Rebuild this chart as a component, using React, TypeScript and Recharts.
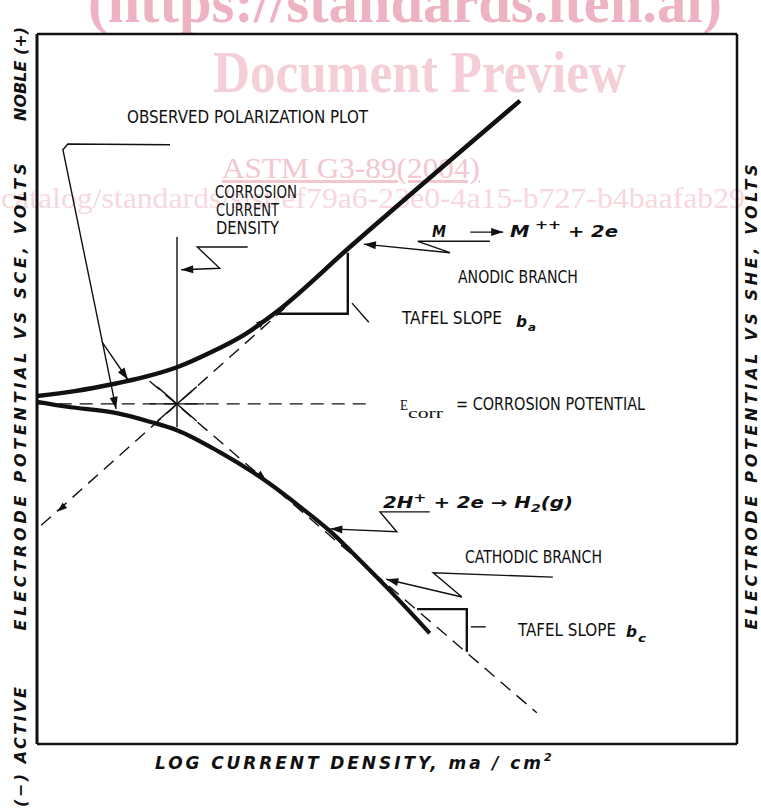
import React from "react";
import { ComposedChart, Line, XAxis, YAxis, ReferenceDot } from "recharts";

type Pt = { i: number; e: number };
const pts = (rows: number[][]): Pt[] => rows.map(([i, e]) => ({ i, e }));

// i = log current density, e = electrode potential, both in the sketch's own units
const anodicBranch = pts([
  [0, 4.9], [0.54, 4.97], [1.09, 5.07], [1.54, 5.17], [2.01, 5.31],
  [2.47, 5.51], [2.97, 5.77], [3.4, 6.07], [4.47, 7.0], [6.9, 9.06],
]);
const cathodicBranch = pts([
  [0, 4.82], [0.43, 4.75], [1.14, 4.66], [1.61, 4.54], [2.0, 4.42], [2.61, 4.11],
  [3.29, 3.69], [3.76, 3.34], [4.23, 2.96], [4.61, 2.59], [5.11, 2.09], [5.61, 1.56],
]);

const E_CORR = 4.79;
const I_CORR = 2.0;
const ecorrLine = pts([[0.01, E_CORR], [4.76, E_CORR]]);
const icorrLine = pts([[I_CORR, 7.14], [I_CORR, 4.46]]);
const anodicTafel = pts([[0.06, 3.08], [3.54, 6.14]]);
const cathodicTafel = pts([[1.61, 5.11], [7.14, 0.44]]);
const crossMarks = [
  pts([[1.61, E_CORR], [2.39, E_CORR]]),
  pts([[1.72, 4.55], [2.28, 5.03]]),
  pts([[1.72, 5.03], [2.28, 4.55]]),
];

// leaders and construction lines
const observedLeader = pts([[1.9, 8.44], [0.44, 8.45], [0.37, 8.37], [1.13, 4.72]]);
const observedBranch = pts([[0.93, 5.66], [1.3, 5.13]]);
const icorrLeader = pts([[3.01, 7.0], [2.29, 7.0], [2.61, 6.7], [2.06, 6.68]]);
const anodicLeader = pts([[6.47, 7.08], [5.44, 7.08], [5.9, 6.92], [4.67, 7.04]]);
const cathodicLeader = pts([[7.37, 2.35], [5.66, 2.41], [6.07, 2.07], [4.99, 2.32]]);
const hydrogenLeader = pts([[5.61, 3.27], [4.9, 3.27], [5.14, 2.99], [4.19, 3.03]]);
const reactionArrow = pts([[6.19, 7.21], [6.66, 7.21]]);
const anodicTriangle = pts([[3.43, 6.06], [4.44, 6.06], [4.44, 6.92]]);
const anodicSlopeLeader = pts([[4.5, 6.21], [4.74, 5.94]]);
const cathodicTriangle = pts([[5.43, 1.9], [6.14, 1.9], [6.14, 1.3]]);
const cathodicSlopeLeader = pts([[6.2, 1.65], [6.41, 1.65]]);
const tafelArrows = [
  pts([[0.54, 3.48], [0.29, 3.27]]),
  pts([[3.07, 5.82], [3.27, 5.99]]),
  pts([[3.07, 3.89], [3.27, 3.72]]),
];

const NARROW = "'Liberation Sans Narrow', 'DejaVu Sans Condensed', 'Liberation Sans', sans-serif";
const BOLDIT = "'DejaVu Sans', 'Liberation Sans', sans-serif";
const SERIF = "'Liberation Serif', 'DejaVu Serif', serif";
const INK = "#111";

const arrowTip = (n: number, len = 12, half = 4) => {
  let px = 0;
  let py = 0;
  return (p: any) => {
    const { cx, cy, index } = p;
    if (index < n - 1) {
      px = cx;
      py = cy;
      return <g key={`a${index}`} />;
    }
    const a = (Math.atan2(cy - py, cx - px) * 180) / Math.PI;
    return (
      <polygon
        key={`a${index}`}
        points={`0,0 ${-len},${-half} ${-len},${half}`}
        transform={`translate(${cx},${cy}) rotate(${a})`}
        fill={INK}
        stroke="none"
      />
    );
  };
};

const plain = (s: string, len: number, size = 17) => (p: any) => (
  <text x={p.cx} y={p.cy} fontFamily={NARROW} fontSize={size} fill={INK} textLength={len} lengthAdjust="spacingAndGlyphs">
    {s}
  </text>
);

const boldIt = (content: React.ReactNode, len: number, size = 15) => (p: any) => (
  <text x={p.cx} y={p.cy} fontFamily={BOLDIT} fontStyle="italic" fontWeight="bold" fontSize={size} fill={INK} textLength={len} lengthAdjust="spacingAndGlyphs">
    {content}
  </text>
);

const serif = (s: string, len: number, size: number) => (p: any) => (
  <text x={p.cx} y={p.cy} fontFamily={SERIF} fontSize={size} fill={INK} textLength={len} lengthAdjust="spacingAndGlyphs">
    {s}
  </text>
);

const titleStyle = {
  fontFamily: BOLDIT,
  fontStyle: "italic" as const,
  fontWeight: 700,
  fontSize: 16,
  fill: INK,
};

function VerticalTitle({ cx, cy, len, text }: { cx: number; cy: number; len: number; text: string }) {
  return (
    <text
      transform={`translate(${cx},${cy}) rotate(-90)`}
      textAnchor="middle"
      dominantBaseline="central"
      textLength={len}
      lengthAdjust="spacing"
      {...titleStyle}
    >
      {text}
    </text>
  );
}

function LeftTitles({ viewBox }: any) {
  const x = viewBox.x + 20;
  return (
    <g>
      <VerticalTitle cx={x} cy={viewBox.y + 40} len={94} text="NOBLE (+)" />
      <VerticalTitle cx={x} cy={viewBox.y + 363} len={467} text="ELECTRODE  POTENTIAL  VS  SCE, VOLTS" />
      <VerticalTitle cx={x} cy={viewBox.y + 713} len={120} text="(−)  ACTIVE" />
    </g>
  );
}

function RightTitle({ viewBox }: any) {
  return <VerticalTitle cx={viewBox.x + 14} cy={viewBox.y + 363} len={465} text="ELECTRODE  POTENTIAL  VS  SHE, VOLTS" />;
}

function BottomTitle({ viewBox }: any) {
  const x = viewBox.x + 118;
  const y = viewBox.y + 25;
  return (
    <g>
      <text x={x} y={y} textLength={386} lengthAdjust="spacing" {...titleStyle} fontSize={17}>
        LOG  CURRENT  DENSITY,  ma / cm
      </text>
      <text x={x + 389} y={y - 8} {...titleStyle} fontSize={11}>
        2
      </text>
    </g>
  );
}

function Watermark() {
  return (
    <svg width={761} height={808} style={{ position: "absolute", left: 0, top: 0 }}>
      <text x={88} y={22} fontFamily={SERIF} fontWeight="bold" fontSize={60} fill="#eeb3c2" textLength={634} lengthAdjust="spacingAndGlyphs">
        (https://standards.iteh.ai)
      </text>
      <text x={213} y={92} fontFamily={SERIF} fontWeight="bold" fontSize={60} fill="#f5cfd8" textLength={413} lengthAdjust="spacingAndGlyphs">
        Document Preview
      </text>
      <text x={222} y={178} fontFamily={SERIF} fontSize={30} fill="#f3c6d0" textLength={258} lengthAdjust="spacingAndGlyphs" textDecoration="underline">
        ASTM G3-89(2004)
      </text>
      <text x={1} y={208} fontFamily={SERIF} fontSize={29} fill="#f7d8df" textLength={744} lengthAdjust="spacingAndGlyphs">
        catalog/standards/sist/ef79a6-23e0-4a15-b727-b4baafab29
      </text>
    </svg>
  );
}

export default function App() {
  const thin = { stroke: INK, strokeWidth: 1.4, dot: false as const, activeDot: false as const, isAnimationActive: false, type: "linear" as const };
  const dashed = { ...thin, strokeDasharray: "13 8" };
  const leaders = [observedLeader, observedBranch, icorrLeader, anodicLeader, cathodicLeader, hydrogenLeader, reactionArrow];

  return (
    <div style={{ position: "absolute", left: 0, top: 0, width: 761, height: 808, background: "#fff" }}>
      <Watermark />
      <div style={{ position: "absolute", left: 0, top: 0 }}>
        <ComposedChart width={761} height={808} margin={{ top: 0, right: 0, bottom: 0, left: 0 }}>
          <XAxis dataKey="i" type="number" domain={[0, 10]} allowDataOverflow height={64} tick={false} tickLine={false} axisLine={{ stroke: INK, strokeWidth: 2.5 }} label={<BottomTitle />} />
          <XAxis xAxisId="top" orientation="top" dataKey="i" type="number" domain={[0, 10]} height={34} tick={false} tickLine={false} axisLine={{ stroke: INK, strokeWidth: 2.5 }} />
          <YAxis type="number" domain={[0, 10]} allowDataOverflow width={37} tick={false} tickLine={false} axisLine={{ stroke: INK, strokeWidth: 3 }} label={<LeftTitles />} />
          <YAxis yAxisId="right" orientation="right" type="number" domain={[0, 10]} width={24} tick={false} tickLine={false} axisLine={{ stroke: INK, strokeWidth: 2.5 }} label={<RightTitle />} />

          <Line data={ecorrLine} dataKey="e" {...dashed} />
          <Line data={anodicTafel} dataKey="e" {...dashed} />
          <Line data={cathodicTafel} dataKey="e" {...dashed} />
          {crossMarks.map((d, k) => (
            <Line key={`x${k}`} data={d} dataKey="e" {...thin} />
          ))}
          <Line data={icorrLine} dataKey="e" {...thin} />

          <Line data={anodicBranch} dataKey="e" type="monotone" stroke={INK} strokeWidth={4.5} dot={false} activeDot={false} isAnimationActive={false} />
          <Line data={cathodicBranch} dataKey="e" type="monotone" stroke={INK} strokeWidth={4.2} dot={false} activeDot={false} isAnimationActive={false} />

          <Line data={anodicTriangle} dataKey="e" {...thin} strokeWidth={2.4} />
          <Line data={cathodicTriangle} dataKey="e" {...thin} strokeWidth={2.4} />
          <Line data={anodicSlopeLeader} dataKey="e" {...thin} />
          <Line data={cathodicSlopeLeader} dataKey="e" {...thin} />
          {leaders.map((d, k) => (
            <Line key={`l${k}`} data={d} dataKey="e" {...thin} dot={arrowTip(d.length)} />
          ))}
          {tafelArrows.map((d, k) => (
            <Line key={`t${k}`} data={d} dataKey="e" {...thin} stroke="none" dot={arrowTip(d.length, 10, 3.5)} />
          ))}

          <ReferenceDot x={1.286} y={8.746} r={1} ifOverflow="visible" shape={plain("OBSERVED POLARIZATION PLOT", 241)} />
          <ReferenceDot x={2.543} y={7.69} r={1} ifOverflow="visible" shape={plain("CORROSION", 82)} />
          <ReferenceDot x={2.557} y={7.437} r={1} ifOverflow="visible" shape={plain("CURRENT", 63)} />
          <ReferenceDot x={2.557} y={7.183} r={1} ifOverflow="visible" shape={plain("DENSITY", 63)} />
          <ReferenceDot x={5.643} y={7.141} r={1} ifOverflow="visible" shape={boldIt("M", 14)} />
          <ReferenceDot
            x={6.757}
            y={7.141}
            r={1}
            ifOverflow="visible"
            shape={boldIt(
              <>
                M<tspan dy={-8} fontSize={12}> ++</tspan>
                <tspan dy={8}> + 2e</tspan>
              </>,
              108
            )}
          />
          <ReferenceDot x={6.014} y={6.493} r={1} ifOverflow="visible" shape={plain("ANODIC BRANCH", 120)} />
          <ReferenceDot x={5.214} y={5.915} r={1} ifOverflow="visible" shape={plain("TAFEL SLOPE", 100)} />
          <ReferenceDot x={6.843} y={5.873} r={1} ifOverflow="visible" shape={boldIt("b", 11)} />
          <ReferenceDot x={7.014} y={5.817} r={1} ifOverflow="visible" shape={boldIt("a", 8, 11)} />
          <ReferenceDot x={5.186} y={4.704} r={1} ifOverflow="visible" shape={serif("E", 8, 15)} />
          <ReferenceDot x={5.3} y={4.592} r={1} ifOverflow="visible" shape={serif("corr", 35, 14)} />
          <ReferenceDot x={5.986} y={4.704} r={1} ifOverflow="visible" shape={plain("= CORROSION POTENTIAL", 189)} />
          <ReferenceDot
            x={4.943}
            y={3.324}
            r={1}
            ifOverflow="visible"
            shape={boldIt(
              <>
                2H<tspan dy={-6} fontSize={12}>+</tspan>
                <tspan dy={6}> + 2e → H</tspan>
                <tspan dy={4} fontSize={11}>2</tspan>
                <tspan dy={-4}>(g)</tspan>
              </>,
              190
            )}
          />
          <ReferenceDot x={6.114} y={2.549} r={1} ifOverflow="visible" shape={plain("CATHODIC BRANCH", 137)} />
          <ReferenceDot x={6.871} y={1.521} r={1} ifOverflow="visible" shape={plain("TAFEL SLOPE", 98)} />
          <ReferenceDot x={8.414} y={1.507} r={1} ifOverflow="visible" shape={boldIt("b", 11)} />
          <ReferenceDot x={8.586} y={1.437} r={1} ifOverflow="visible" shape={boldIt("c", 8, 11)} />
        </ComposedChart>
      </div>
    </div>
  );
}
